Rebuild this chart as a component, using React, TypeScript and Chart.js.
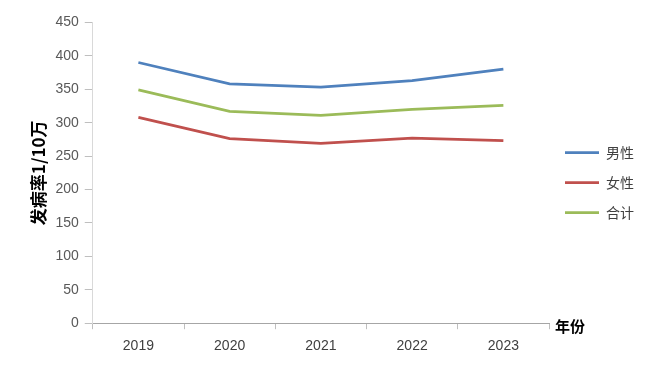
import { useEffect, useRef } from "react";
import { Chart, registerables } from "chart.js";

Chart.register(...registerables);

const years = ["2019", "2020", "2021", "2022", "2023"];
const maleRate = [390, 358, 353, 363, 380];
const femaleRate = [308, 276, 269, 277, 273];
const totalRate = [349, 317, 311, 320, 326];
const seriesNames = ["男性", "女性", "合计"];
const yMin = 0;
const yMax = 450;
const yStep = 50;
const yTitle = "发病率1/10万";
const xEndTitle = "年份";

export default function App() {
  const ref = useRef<HTMLCanvasElement>(null);

  useEffect(() => {
    if (!ref.current) return;
    const endTitle = {
      id: "xEndTitle",
      afterDraw(chart: any) {
        const { ctx, chartArea } = chart;
        ctx.save();
        ctx.font = "bold 15px 'Noto Sans CJK SC'";
        ctx.fillStyle = "#000000";
        ctx.textBaseline = "middle";
        ctx.textAlign = "left";
        ctx.fillText(xEndTitle, chartArea.right + 6, chartArea.bottom + 3);
        ctx.restore();
      },
    };
    const legendNudge = {
      id: "legendNudge",
      afterLayout(chart: any) {
        if (chart.legend) {
          chart.legend.top -= 5;
          chart.legend.bottom -= 5;
        }
      },
    };
    const mk = (label: string, data: number[], color: string) => ({
      label,
      data,
      borderColor: color,
      backgroundColor: color,
      borderWidth: 2.75,
      pointRadius: 0,
      pointHoverRadius: 0,
      tension: 0,
      fill: false,
    });
    const chart = new Chart(ref.current, {
      type: "line",
      data: {
        labels: years,
        datasets: [
          mk(seriesNames[0], maleRate, "#4F81BD"),
          mk(seriesNames[1], femaleRate, "#C0504D"),
          mk(seriesNames[2], totalRate, "#9BBB59"),
        ],
      },
      options: {
        animation: false,
        responsive: true,
        maintainAspectRatio: false,
        layout: { padding: { left: 20, right: 16, top: 3, bottom: 0 } },
        plugins: {
          tooltip: { enabled: false },
          legend: {
            position: "right",
            align: "center",
            labels: {
              usePointStyle: true,
              pointStyle: "line",
              pointStyleWidth: 34,
              padding: 16,
              color: "#404040",
              font: { family: "'Noto Sans CJK SC'", size: 14 },
            },
          },
        },
        scales: {
          x: {
            offset: true,
            grid: {
              offset: true,
              drawOnChartArea: false,
              drawTicks: true,
              tickLength: 6,
              color: "#BFBFBF",
            },
            border: { display: true, color: "#A6A6A6", width: 1 },
            ticks: {
              color: "#404040",
              padding: 9,
              font: { family: "'Liberation Sans'", size: 14 },
            },
          },
          y: {
            min: yMin,
            max: yMax,
            ticks: {
              stepSize: yStep,
              color: "#595959",
              padding: 6,
              font: { family: "'Liberation Sans'", size: 14 },
            },
            grid: {
              drawOnChartArea: false,
              drawTicks: true,
              tickLength: 8,
              color: "#BFBFBF",
            },
            border: { display: true, color: "#D9D9D9", width: 1 },
            title: {
              display: true,
              text: yTitle,
              color: "#000000",
              padding: { top: 0, bottom: 1 },
              font: { family: "'Noto Sans CJK SC'", size: 17, weight: "bold" },
            },
          },
        },
      },
      plugins: [endTitle, legendNudge],
    });
    return () => chart.destroy();
  }, []);

  return (
    <div style={{ width: 652, height: 356 }}>
      <canvas ref={ref} />
    </div>
  );
}
